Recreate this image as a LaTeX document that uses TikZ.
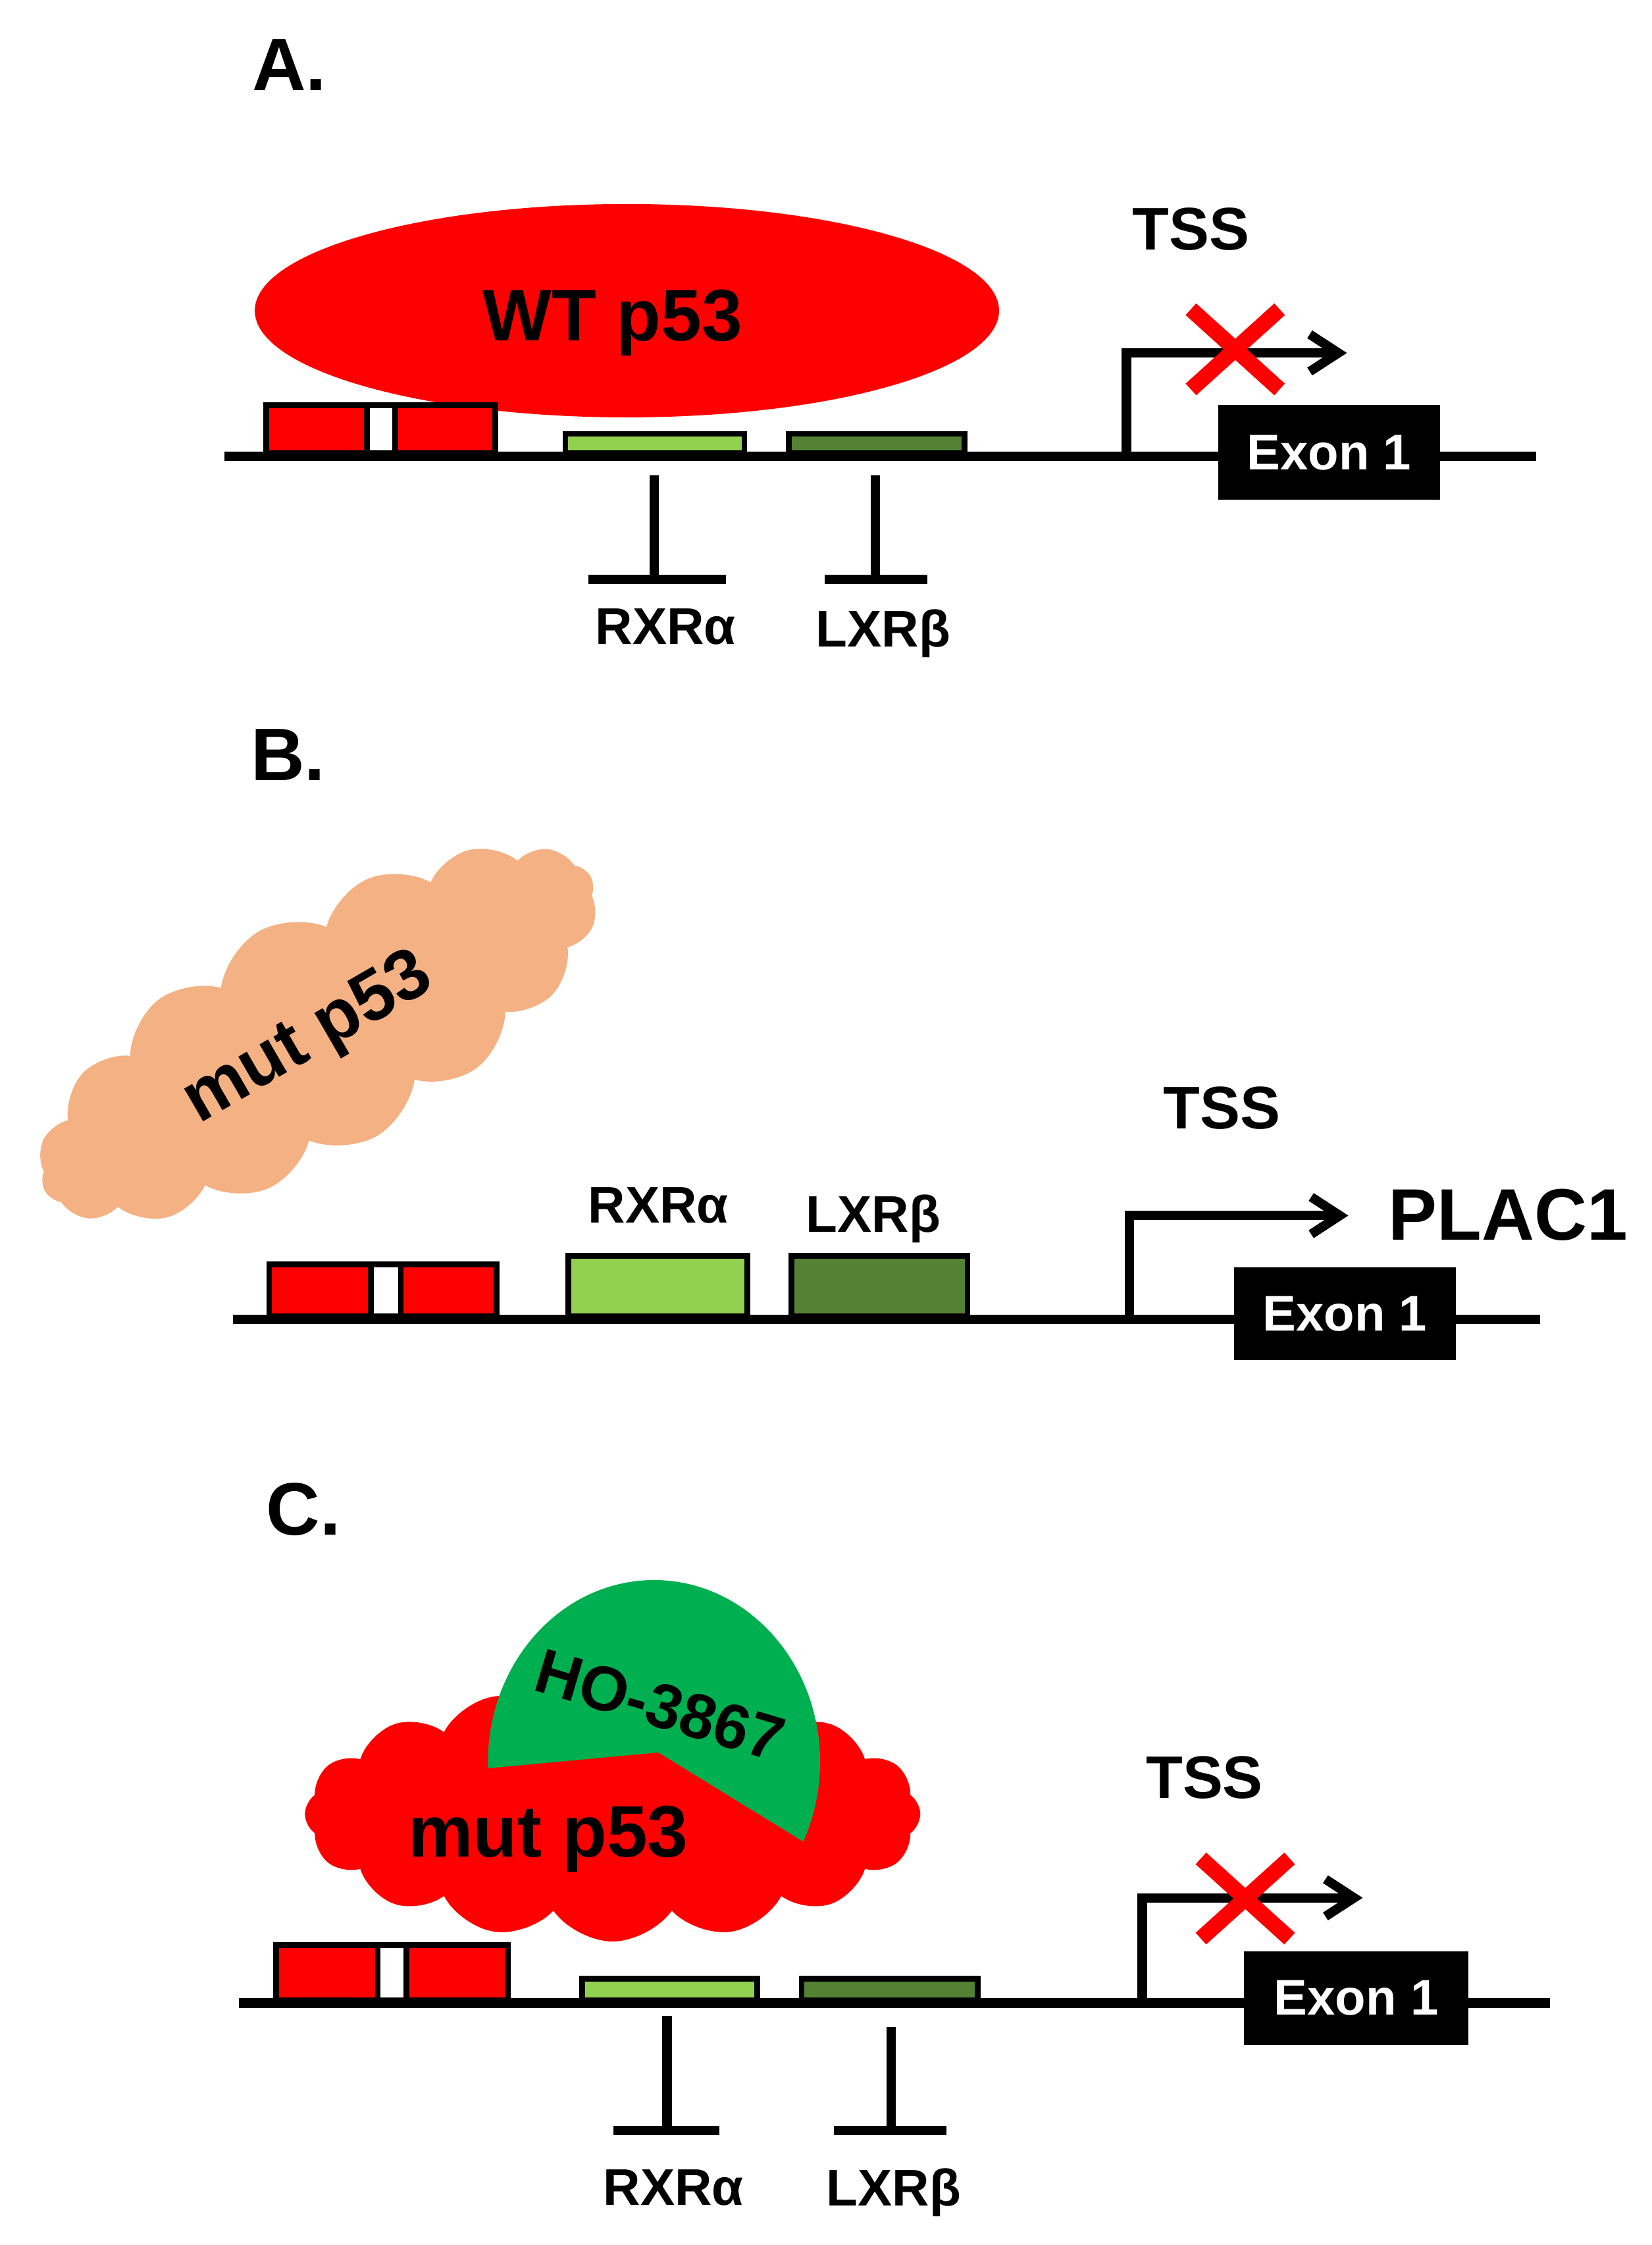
\documentclass[tikz,border=0pt]{standalone}
\usepackage{fontspec}
\setmainfont{Liberation Sans}
\usetikzlibrary{arrows.meta,shapes.symbols,shapes.geometric}
\definecolor{pred}{HTML}{FF0000}
\definecolor{peach}{HTML}{F4B183}
\definecolor{pgreen}{HTML}{00B050}
\definecolor{lgreen}{HTML}{92D050}
\definecolor{dgreen}{HTML}{548235}
\newcommand{\fsz}[1]{\fontsize{#1}{#1}\selectfont\bfseries}
\begin{document}
\begin{tikzpicture}[x=1pt,y=-1pt,
  dna/.style={line width=6.5pt},
  lbl/.style={inner sep=0pt, anchor=base},
  gbox/.style={draw=black, line width=4pt, inner sep=0pt, anchor=south west},
  inhib/.style={line width=6.5pt},
  tssarrow/.style={line width=6.5pt, -{Straight Barb[length=20pt,width=26pt]}},
  xmark/.style={line width=11pt, draw=pred},
  exon/.style={fill=black, text=white, inner sep=0pt, font=\fsz{35}},
  panel/.style={inner sep=0pt, anchor=base west, font=\fsz{52}},
]
\useasboundingbox (0,0) rectangle (1154,1568);

% ================= Panel A =================
\node[panel] (labA) at (176,63) {A.};
\node[ellipse, fill=pred, minimum width=520pt, minimum height=149pt, inner sep=0pt] (wt) at (438,217) {};
\node[lbl, font=\fsz{51}] (wtt) at (428,238) {WT p53};

\coordinate (a0) at (157,318.5);
\coordinate (a1) at (1073,318.5);
\draw[dna] (a0) -- (a1);

\node[gbox, fill=pred, minimum width=160pt, minimum height=33.5pt] (redA) at (184,318.5) {};
\node[gbox, fill=white, minimum width=19.5pt, minimum height=33.5pt] (gapA) at (254.5,318.5) {};
\node[gbox, fill=lgreen, minimum width=125pt, minimum height=13.5pt] (rxrA) at (393,318.5) {};
\node[gbox, fill=dgreen, minimum width=123pt, minimum height=13.5pt] (lxrA) at (549,318.5) {};

\coordinate (iA1t) at (457,332);
\coordinate (iA1b) at (457,404.5);
\coordinate (iA1l) at (411,404.5);
\coordinate (iA1r) at (507,404.5);
\draw[inhib] (iA1t) -- (iA1b);
\draw[inhib] (iA1l) -- (iA1r);
\coordinate (iA2t) at (611.5,332);
\coordinate (iA2b) at (611.5,404.5);
\coordinate (iA2l) at (576,404.5);
\coordinate (iA2r) at (648,404.5);
\draw[inhib] (iA2t) -- (iA2b);
\draw[inhib] (iA2l) -- (iA2r);
\node[lbl, font=\fsz{36}] (rxrAl) at (465,450) {RXRα};
\node[lbl, font=\fsz{36}] (lxrAl) at (617,452) {LXRβ};

\node[lbl, font=\fsz{42}] (tssA) at (832,174.6) {TSS};
\coordinate (tA0) at (787,318.5);
\coordinate (tA1) at (787,246.5);
\coordinate (tA2) at (941,246.5);
\draw[tssarrow] (tA0) -- (tA1) -- (tA2);
\coordinate (xA) at (863,244);
\draw[xmark] ([shift={(-31,-28)}]xA) -- ([shift={(31,28)}]xA);
\draw[xmark] ([shift={(-31,28)}]xA) -- ([shift={(31,-28)}]xA);
\node[exon, minimum width=155pt, minimum height=66pt] (exA) at (928.5,316) {Exon 1};

% ================= Panel B =================
\node[panel] (labB) at (175,545) {B.};
\node[cloud, cloud puffs=16, cloud puff arc=105, aspect=2.8, fill=peach, minimum width=440pt, minimum height=165pt, inner sep=0pt, rotate=30] (cloudB) at (222,722) {};
\node[lbl, font=\fsz{50}, rotate=30] (mutB) at (222,737) {mut p53};

\coordinate (b0) at (163,921.5);
\coordinate (b1) at (1076,921.5);
\draw[dna] (b0) -- (b1);

\node[gbox, fill=pred, minimum width=159pt, minimum height=36.5pt] (redB) at (186,921.5) {};
\node[gbox, fill=white, minimum width=21pt, minimum height=36.5pt] (gapB) at (257,921.5) {};
\node[gbox, fill=lgreen, minimum width=125pt, minimum height=42.5pt] (rxrB) at (395,921.5) {};
\node[gbox, fill=dgreen, minimum width=123pt, minimum height=42.5pt] (lxrB) at (551,921.5) {};
\node[lbl, font=\fsz{36}] (rxrBl) at (460,854) {RXRα};
\node[lbl, font=\fsz{36}] (lxrBl) at (610,860.5) {LXRβ};

\node[lbl, font=\fsz{42}] (tssB) at (853.6,788.5) {TSS};
\coordinate (tB0) at (789,921.5);
\coordinate (tB1) at (789,849);
\coordinate (tB2) at (942,849);
\draw[tssarrow] (tB0) -- (tB1) -- (tB2);
\node[inner sep=0pt, anchor=base west, font=\fsz{51}] (plac) at (970,866) {PLAC1};
\node[exon, minimum width=155pt, minimum height=65pt] (exB) at (939.5,917.5) {Exon 1};

% ================= Panel C =================
\node[panel] (labC) at (186,1072) {C.};
\node[cloud, cloud puffs=16, cloud puff arc=110, aspect=2.4, fill=pred, minimum width=430pt, minimum height=178pt, inner sep=0pt] (cloudC) at (428,1267) {};
\fill[pgreen] (341,1235) arc[start angle=178, end angle=386, x radius=116, y radius=127] -- (460,1224) -- cycle;
\node[inner sep=0pt, font=\fsz{44}, rotate=-16.5] (ho) at (461,1191) {HO-3867};
\node[lbl, font=\fsz{51}] (mutC) at (383,1297) {mut p53};

\coordinate (c0) at (167,1399);
\coordinate (c1) at (1083,1399);
\draw[dna] (c0) -- (c1);

\node[gbox, fill=pred, minimum width=162pt, minimum height=38.4pt] (redC) at (191,1399) {};
\node[gbox, fill=white, minimum width=20pt, minimum height=38.4pt] (gapC) at (262,1399) {};
\node[gbox, fill=lgreen, minimum width=122.4pt, minimum height=15pt] (rxrC) at (404.6,1399) {};
\node[gbox, fill=dgreen, minimum width=123pt, minimum height=15pt] (lxrC) at (558,1399) {};

\coordinate (iC1t) at (466,1408);
\coordinate (iC1b) at (466,1488);
\coordinate (iC1l) at (428.6,1488);
\coordinate (iC1r) at (502.4,1488);
\draw[inhib] (iC1t) -- (iC1b);
\draw[inhib] (iC1l) -- (iC1r);
\coordinate (iC2t) at (622.5,1415.6);
\coordinate (iC2b) at (622.5,1488);
\coordinate (iC2l) at (582.5,1488);
\coordinate (iC2r) at (661,1488);
\draw[inhib] (iC2t) -- (iC2b);
\draw[inhib] (iC2l) -- (iC2r);
\node[lbl, font=\fsz{36}] (rxrCl) at (470.5,1540) {RXRα};
\node[lbl, font=\fsz{36}] (lxrCl) at (624.4,1540.5) {LXRβ};

\node[lbl, font=\fsz{42}] (tssC) at (841.5,1256) {TSS};
\coordinate (tC0) at (798,1399);
\coordinate (tC1) at (798,1325.5);
\coordinate (tC2) at (952,1325.5);
\draw[tssarrow] (tC0) -- (tC1) -- (tC2);
\coordinate (xC) at (870,1326);
\draw[xmark] ([shift={(-31,-28)}]xC) -- ([shift={(31,28)}]xC);
\draw[xmark] ([shift={(-31,28)}]xC) -- ([shift={(31,-28)}]xC);
\node[exon, minimum width=157pt, minimum height=65pt] (exC) at (947.5,1395.5) {Exon 1};
\end{tikzpicture}
\end{document}
